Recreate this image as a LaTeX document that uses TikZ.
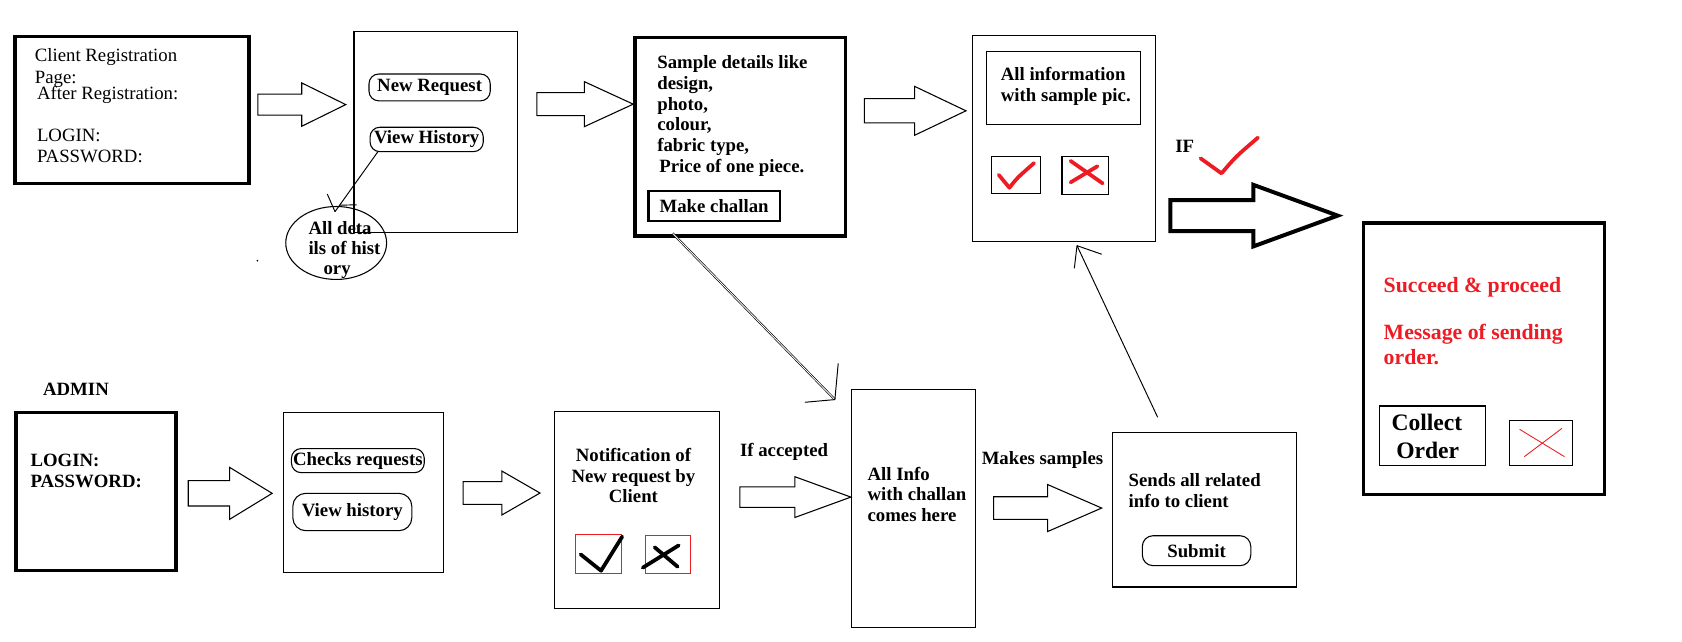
\documentclass[tikz,border=0pt]{standalone}
\usepackage{fontspec}
\usetikzlibrary{shapes.geometric}
\setmainfont{Liberation Serif}
\definecolor{paintred}{RGB}{237,28,36}
\newcommand\fbold{\bfseries\fontsize{17.5}{19.5}\selectfont}
\newcommand\freg{\fontsize{17.5}{19.5}\selectfont}
\newcommand\fredt{\bfseries\fontsize{20.3}{23}\selectfont}
\newcommand\fcoll{\bfseries\fontsize{22}{25}\selectfont}
\newcommand\blockarrow[7][]{\draw[blk,#1] (#2,#5-#6) -- (#3,#5-#6) -- (#3,#5-#7) -- (#4,#5) -- (#3,#5+#7) -- (#3,#5+#6) -- (#2,#5+#6) -- cycle;}
\tikzset{
  thinbox/.style={draw, line width=1pt, inner sep=0pt, rectangle},
  thickbox/.style={draw, line width=3.3pt, inner sep=0pt, rectangle},
  redbox/.style={draw=paintred, line width=1pt, inner sep=0pt, rectangle},
  btn/.style={draw, line width=1pt, rounded corners=9pt, inner sep=0pt, font=\fbold},
  txt/.style={inner sep=0pt, anchor=base west, font=\fbold},
  rtxt/.style={inner sep=0pt, anchor=base west, font=\freg},
  redtxt/.style={inner sep=0pt, anchor=base west, font=\fredt, text=paintred},
  colltxt/.style={inner sep=0pt, anchor=base west, font=\fcoll},
  blk/.style={draw, line width=1pt, line join=miter},
  conn/.style={draw, line width=0.9pt},
  chkred/.style={draw=paintred, line width=3.5pt, line cap=round, line join=round},
  chkblack/.style={draw=black, line width=3.5pt, line cap=round, line join=round},
}
\begin{document}
\begin{tikzpicture}[x=1pt,y=-1pt]
\useasboundingbox[fill=white] (0,0) rectangle (1568,598);

% ---------- top row ----------
\node[thickbox, minimum width=218pt, minimum height=137pt] (client) at (123,102.5) {};
\node[rtxt] (c1) at (32.3,57.5) {Client Registration};
\node[rtxt] (c2) at (32.3,77.7) {Page:};
\node[rtxt] (c3) at (34.3,93.2) {After Registration:};
\node[rtxt] (c4) at (34.3,132) {LOGIN:};
\node[rtxt] (c5) at (34.3,151.6) {PASSWORD:};

\blockarrow{240.4}{281.3}{322.3}{97.5}{9.8}{20.2}

\node[thinbox, minimum width=152pt, minimum height=187.5pt] (nreq) at (406,123.25) {};
\node[btn, minimum width=113pt, minimum height=25pt] (btnNew) at (400.5,81.5) {New Request};
\node[btn, minimum width=105.5pt, minimum height=22.7pt] (btnHist) at (397.75,130) {View History};

\node[draw, ellipse, line width=1pt, minimum width=94pt, minimum height=68pt, inner sep=0pt] (ell) at (313.4,226.5) {};
\node[txt] (e1) at (287.4,218.2) {All deta};
\node[txt] (e2) at (287.4,237.7) {ils of hist};
\node[txt] (e3) at (301.4,255.5) {ory};
\coordinate (h1s) at (352.3,141.4);
\coordinate (h1e) at (312.3,197.3);
\draw[conn] (h1s) -- (h1e);
\draw[conn] (h1e) -- (305.1,180.9);
\draw[conn] (316.5,191.2) -- (332.5,191);
\fill (240,243) circle (0.9);

\blockarrow{500.4}{544.7}{590.3}{97.1}{10.7}{21}

\node[thickbox, minimum width=196pt, minimum height=185pt] (sample) at (690,127.5) {};
\node[txt] (s1) at (612.6,63.7) {Sample details like};
\node[txt] (s2) at (612.6,83) {design,};
\node[txt] (s3) at (612.6,102.6) {photo,};
\node[txt] (s4) at (612.6,122.1) {colour,};
\node[txt] (s5) at (612.6,141.4) {fabric type,};
\node[txt] (s6) at (614.5,160.7) {Price of one piece.};
\node[draw, line width=2.7pt, inner sep=0pt, minimum width=122.8pt, minimum height=28pt, font=\fbold] (challan) at (665.7,192) {Make challan};

\blockarrow{805.7}{852.6}{900.5}{103.3}{11.3}{22.8}

\node[thinbox, minimum width=170pt, minimum height=192pt] (info) at (992,129) {};
\node[thinbox, minimum width=143pt, minimum height=68pt] (infoin) at (991.5,82) {};
\node[txt] (i1) at (932.8,75.5) {All information};
\node[txt] (i2) at (932.8,94.8) {with sample pic.};
\node[thinbox, minimum width=46pt, minimum height=34pt] (okbox) at (947,163) {};
\node[thinbox, minimum width=43pt, minimum height=35pt] (nobox) at (1011.5,163.5) {};
\draw[chkred] (931,163) -- (941,175) .. controls (948,166) .. (964,152);
\draw[chkred] (998,150) -- (1028,171);
\draw[chkred] (998,170) -- (1023,155);

\node[txt] (iftxt) at (1095.4,142.3) {IF};
\draw[chkred] (1119.2,147.6) -- (1138.7,161.6) .. controls (1152,146) .. (1172.7,128.3);

\blockarrow[line width=3.7pt]{1091}{1168.4}{1247}{201}{14.5}{28.7}

\node[thickbox, line width=3.1pt, minimum width=225pt, minimum height=253pt] (result) at (1383.5,334.5) {};
\node[redtxt] (r1) at (1289.7,272.5) {Succeed \& proceed};
\node[redtxt] (r2) at (1289.7,316.3) {Message of sending};
\node[redtxt] (r3) at (1289.7,339.7) {order.};
\node[thinbox, line width=1.2pt, minimum width=99pt, minimum height=55.6pt] (collect) at (1335.5,406.3) {};
\node[colltxt] (o1) at (1297,400.9) {Collect};
\node[colltxt] (o2) at (1301.4,427.3) {Order};
\node[thinbox, minimum width=59.1pt, minimum height=41.9pt] (cancel) at (1436.55,413.15) {};
\draw[paintred, line width=0.8pt] (1416.6,400.2) -- (1458.4,425.7);
\draw[paintred, line width=0.8pt] (1421,425.7) -- (1456.1,399.3);

% ---------- bottom row ----------
\node[txt] (adm) at (40,368.8) {ADMIN};
\node[thickbox, minimum width=149.1pt, minimum height=147.6pt] (admin) at (89.55,458.2) {};
\node[txt] (a1) at (28.3,435) {LOGIN:};
\node[txt] (a2) at (28.3,454.6) {PASSWORD:};

\blockarrow{175.5}{214.1}{253.7}{459.9}{11.8}{24.2}

\node[thinbox, minimum width=149.5pt, minimum height=149.2pt] (dash) at (338.75,459) {};
\node[btn, minimum width=123.8pt, minimum height=22.4pt] (btnChk) at (333.6,429.4) {Checks requests};
\node[btn, rounded corners=12pt, minimum width=110.9pt, minimum height=34.8pt] (btnVH) at (328.45,477.3) {View history};

\blockarrow{431.8}{467.8}{503.4}{459.6}{10.6}{20.5}

\node[thinbox, minimum width=154pt, minimum height=183pt] (notif) at (594,475.5) {};
\node[txt, anchor=base] (n1) at (590.5,429.8) {Notification of};
\node[txt, anchor=base] (n2) at (590.5,449.7) {New request by};
\node[txt, anchor=base] (n3) at (590.5,468.6) {Client};
\node[redbox, minimum width=43.2pt, minimum height=36.4pt] (acc) at (558.1,516.3) {};
\node[redbox, minimum width=42.1pt, minimum height=35.5pt] (rej) at (622.75,516.75) {};
\draw[chkblack] (541.3,516.8) -- (560.3,532) -- (580,500.3);
\draw[chkblack] (610.3,510.2) -- (631.7,528.3);
\draw[chkblack] (599.2,529.2) -- (632.7,508.4);

\node[txt] (acct) at (689.7,425.7) {If accepted};
\blockarrow{689.7}{741}{793.2}{463.4}{9.6}{19}

\node[thinbox, minimum width=115.5pt, minimum height=221.8pt] (allinfo) at (851.95,473.9) {};
\node[txt] (l1) at (808.6,447.5) {All Info};
\node[txt] (l2) at (808.6,467) {with challan};
\node[txt] (l3) at (808.6,486.3) {comes here};

\node[txt] (mk) at (915,432.6) {Makes samples};
\blockarrow{926.3}{976.6}{1027}{473.6}{10.5}{21.9}

\node[thinbox, minimum width=171.5pt, minimum height=143.9pt] (sends) at (1122.75,475.25) {};
\node[txt] (d1) at (1051.9,453.7) {Sends all related};
\node[txt] (d2) at (1051.9,473) {info to client};
\node[btn, rounded corners=10pt, minimum width=101.1pt, minimum height=27.9pt] (btnSub) at (1115.45,513.35) {Submit};

% ---------- connectors ----------
\coordinate (c2s) at (627,217.5);
\coordinate (c2e) at (778.3,372.5);
\draw[double, double distance=0.8pt, line width=0.6pt] (c2s) -- (c2e);
\draw[conn] (c2e) -- (781.4,338.7);
\draw[conn] (c2e) -- (750.3,375);

\coordinate (c3s) at (1079.2,389);
\coordinate (c3e) at (1004,229);
\draw[conn] (c3s) -- (c3e);
\draw[conn] (c3e) -- (1001.5,250.2);
\draw[conn] (c3e) -- (1027,237);
\end{tikzpicture}
\end{document}
